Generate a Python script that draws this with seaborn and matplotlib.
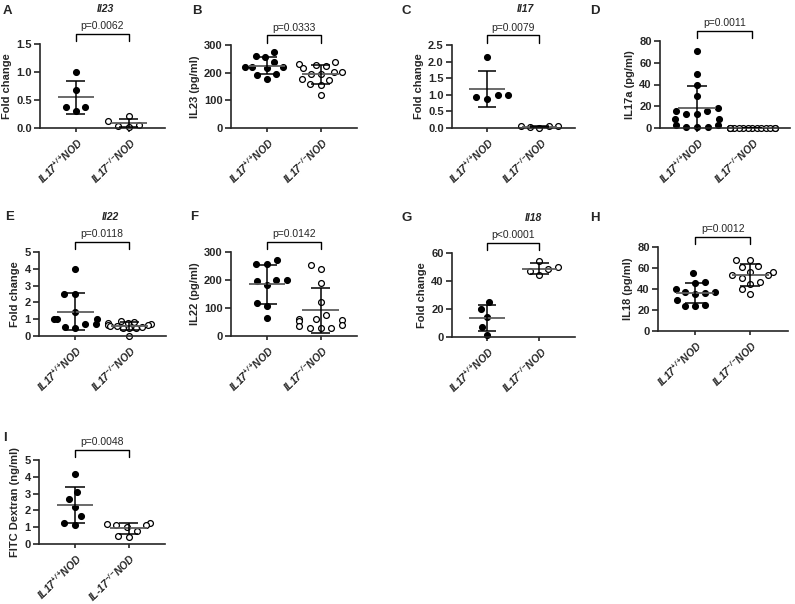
import numpy as np
import pandas as pd
import matplotlib
matplotlib.use("Agg")
import matplotlib.pyplot as plt
import matplotlib.transforms as mtransforms
from matplotlib.collections import PathCollection
import seaborn as sns

#--------------------------------Data----------------------------#
groups = [r"$IL17^{+/+}\!NOD$", r"$IL17^{-/-}\!NOD$"]
groups_fitc = [r"$IL17^{+/+}\!NOD$", r"$IL\text{-}17^{-/-}\!NOD$"]

il23_fc_wt = [1.00, 0.67, 0.38, 0.38, 0.30]
il23_fc_ko = [0.21, 0.12, 0.02, 0.04, 0.05]
il23_pg_wt = [275, 262, 255, 240, 222, 220, 220, 218, 195, 190, 178]
il23_pg_ko = [238, 232, 226, 224, 216, 204, 202, 196, 194, 178, 172, 158, 156, 120]
il17_fc_wt = [2.15, 0.87, 1.00, 0.92, 1.00]
il17_fc_ko = [0.05, 0.06, 0.04, 0.05, 0.00]
il17a_pg_wt = [71, 50, 40, 29, 18, 16, 16, 13, 13, 8, 8, 3, 3, 1, 1, 0.5]
il17a_pg_ko = [0, 0, 0, 0, 0, 0, 0, 0, 0, 0, 0, 0, 0, 0]
il22_fc_wt = [4.0, 2.5, 2.5, 1.45, 1.0, 1.0, 1.0, 0.7, 0.7, 0.45, 0.55]
il22_fc_ko = [0.88, 0.85, 0.8, 0.75, 0.7, 0.66, 0.64, 0.62, 0.6, 0.55, 0.5, 0.48, 0.45, 0.0]
il22_pg_wt = [272, 256, 256, 200, 200, 198, 183, 117, 107, 65]
il22_pg_ko = [255, 238, 190, 120, 76, 62, 62, 57, 55, 40, 36, 30, 28, 28]
il18_fc_wt = [25, 20, 14, 7.5, 1.2]
il18_fc_ko = [54.5, 50, 48.5, 47, 44]
il18_pg_wt = [55, 47, 46, 40, 37, 37, 36, 35, 30, 25, 24, 24]
il18_pg_ko = [68, 68, 62, 61, 56, 56, 53, 53, 50, 47, 45, 40, 35]
fitc_wt = [4.15, 3.1, 2.7, 2.2, 1.65, 1.15, 1.25]
fitc_ko = [1.27, 1.2, 1.13, 1.13, 1.03, 0.8, 0.45, 0.42]

p_values = ["p=0.0062", "p=0.0333", "p=0.0079", "p=0.0011",
            "p=0.0118", "p=0.0142", "p<0.0001", "p=0.0012", "p=0.0048"]

#--------------------------------Style----------------------------#
sns.set_style("ticks")
plt.rcParams["font.family"] = ["Liberation Sans", "DejaVu Sans"]
plt.rcParams["mathtext.fontset"] = "custom"
plt.rcParams["mathtext.rm"] = "Liberation Sans:italic:bold"
plt.rcParams["mathtext.it"] = "Liberation Sans:italic:bold"
plt.rcParams["mathtext.bf"] = "Liberation Sans:italic:bold"

W, H = 795, 604
fig = plt.figure(figsize=(W / 100, H / 100), dpi=100)


def add_ax(l, t, r, b):
    return fig.add_axes([l / W, 1 - b / H, (r - l) / W, (b - t) / H])


def ftext(x, y, s, **kw):
    fig.text(x / W, 1 - y / H, s, **kw)


#--------------------------------Panels----------------------------#
# rect (left, top, right, bottom) in pixels
panels = [
    dict(letter="A", lpos=(3, 14), rect=(40, 44, 165, 128), wt=il23_fc_wt, ko=il23_fc_ko, labels=groups,
         ymax=1.5, step=0.5, fmt="{:.1f}", ylabel="Fold change", title="Il23", tpos=(105, 12), spacing=(6.5, 6.5)),
    dict(letter="B", lpos=(192, 14), rect=(231, 45, 357, 128), wt=il23_pg_wt, ko=il23_pg_ko, labels=groups,
         ymax=300, step=100, fmt="{:.0f}", ylabel="IL23 (pg/ml)", spacing=(6, 6)),
    dict(letter="C", lpos=(402, 14), rect=(452, 45, 575, 128), wt=il17_fc_wt, ko=il17_fc_ko, labels=groups,
         ymax=2.5, step=0.5, fmt="{:.1f}", ylabel="Fold change", title="Il17", tpos=(525, 12), spacing=(7, 5.5)),
    dict(letter="D", lpos=(590, 14), rect=(660, 41, 790, 128), wt=il17a_pg_wt, ko=il17a_pg_ko, labels=groups,
         ymax=80, step=20, fmt="{:.0f}", ylabel="IL17a (pg/ml)", spacing=(6.5, 2.2)),
    dict(letter="E", lpos=(5, 220), rect=(39, 252, 166, 336), wt=il22_fc_wt, ko=il22_fc_ko, labels=groups,
         ymax=5, step=1, fmt="{:.0f}", ylabel="Fold change", title="Il22", tpos=(110, 220), spacing=(6.5, 3.5)),
    dict(letter="F", lpos=(190, 220), rect=(231, 252, 357, 336), wt=il22_pg_wt, ko=il22_pg_ko, labels=groups,
         ymax=300, step=100, fmt="{:.0f}", ylabel="IL22 (pg/ml)", spacing=(6.5, 6.5)),
    dict(letter="G", lpos=(402, 221), rect=(452, 253, 575, 337), wt=il18_fc_wt, ko=il18_fc_ko, labels=groups,
         ymax=60, step=20, fmt="{:.0f}", ylabel="Fold change", title="Il18", tpos=(533, 221), spacing=(6.5, 6.5)),
    dict(letter="H", lpos=(590, 221), rect=(658, 247, 788, 331), wt=il18_pg_wt, ko=il18_pg_ko, labels=groups,
         ymax=80, step=20, fmt="{:.0f}", ylabel="IL18 (pg/ml)", spacing=(6, 6)),
    dict(letter="I", lpos=(3, 441), rect=(39, 460, 165, 544), wt=fitc_wt, ko=fitc_ko, labels=groups_fitc,
         ymax=5, step=1, fmt="{:.0f}", ylabel="FITC Dextran (ng/ml)", spacing=(6.5, 6.5)),
]

swarms = []
for pan, ptext in zip(panels, p_values):
    ax = add_ax(*pan["rect"])
    labels = pan["labels"]
    df = pd.DataFrame({"group": [labels[0]] * len(pan["wt"]) + [labels[1]] * len(pan["ko"]),
                       "value": list(pan["wt"]) + list(pan["ko"])})
    for i, face in enumerate(["black", "white"]):
        sub = df[df["group"] == labels[i]]
        n_before = len(ax.collections)
        sns.swarmplot(data=sub, x="group", y="value", order=labels, ax=ax, size=pan["spacing"][i],
                      color=face, edgecolor="black", linewidth=0.9, warn_thresh=1,
                      zorder=2, clip_on=False)
        swarms += [c for c in ax.collections[n_before:] if isinstance(c, PathCollection)]
        vals = sub["value"].to_numpy()
        m, sd = vals.mean(), vals.std(ddof=1)
        ax.hlines(m, i - 0.34, i + 0.34, color="#5e5e5e", lw=1.3, zorder=3)
        ax.vlines(i, m - sd, m + sd, color="black", lw=1.1, zorder=3)
        ax.hlines([m - sd, m + sd], i - 0.18, i + 0.18, color="black", lw=1.1, zorder=3)

    ax.set_xlim(-0.67, 1.68)
    ax.set_ylim(0, pan["ymax"])
    sns.despine(ax=ax)
    for sp in ["left", "bottom"]:
        ax.spines[sp].set_linewidth(1.2)
    ticks = np.arange(0, pan["ymax"] + pan["step"] / 2, pan["step"])
    ax.set_yticks(ticks, labels=[pan["fmt"].format(t) for t in ticks], fontsize=8, fontweight="bold")
    ax.set_xticks([0, 1], labels=labels, rotation=45, ha="right", rotation_mode="anchor",
                  fontsize=7.5)
    ax.tick_params(axis="y", length=4, width=1.2, pad=2)
    ax.tick_params(axis="x", length=3, width=1.2, pad=2.5)
    ax.set_xlabel("")
    ax.set_ylabel(pan["ylabel"], fontsize=8, fontweight="bold", labelpad=3)

    # significance bracket
    trans = mtransforms.blended_transform_factory(ax.transData, ax.transAxes)
    ax.plot([0, 0, 1, 1], [1.03, 1.12, 1.12, 1.03], transform=trans, color="black", lw=1.0, clip_on=False)
    ax.text(0.5, 1.15, ptext, transform=trans, ha="center", va="bottom", fontsize=7.5)

    ftext(*pan["lpos"], pan["letter"], fontsize=9.5, fontweight="bold", va="baseline")
    if "title" in pan:
        ftext(*pan["tpos"], pan["title"], fontsize=7.5, fontweight="bold", fontstyle="italic",
              ha="center", va="baseline")

# swarm layout with wide spacing first, then freeze it and shrink the dots
fig.canvas.draw()
for coll in swarms:
    if "draw" in coll.__dict__:
        del coll.draw
    coll.set_sizes([4.2 ** 2])

fig.savefig("out.png", dpi=100)
